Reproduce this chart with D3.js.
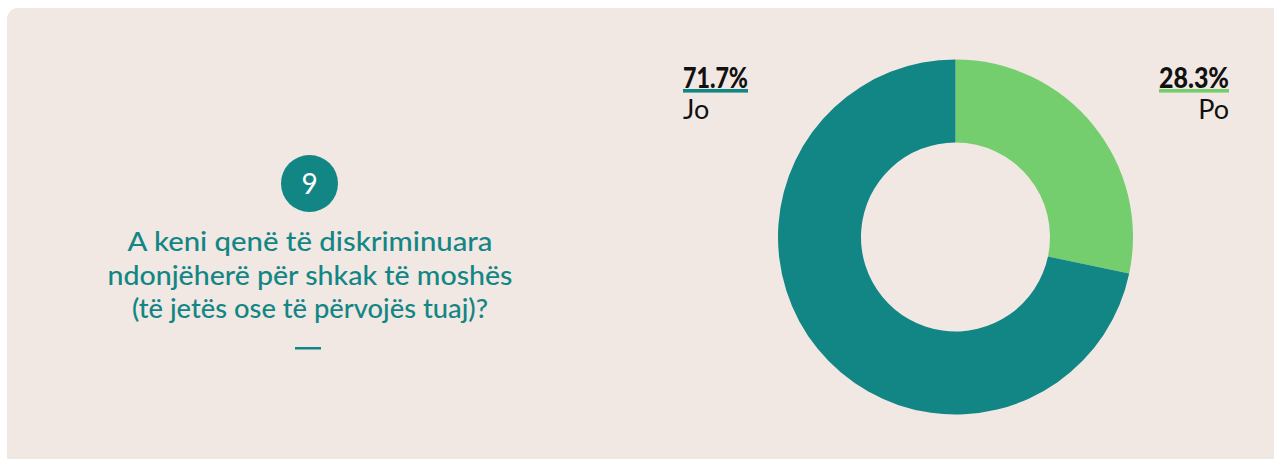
<!DOCTYPE html>
<html>
<head>
<meta charset="utf-8">
<script src="https://cdn.jsdelivr.net/npm/d3@7"></script>
<style>
  html, body { margin: 0; padding: 0; background: #ffffff; }
  svg { display: block; }
</style>
</head>
<body>
<script>
// ---- data ----
const categories = ["Po", "Jo"];
const values = [28.3, 71.7];
const valueLabels = ["28.3%", "71.7%"];
const colors = ["#74ce6e", "#128685"];
const questionNumber = "9";
const questionLines = [
  "A keni qenë të diskriminuara",
  "ndonjëherë për shkak të moshës",
  "(të jetës ose të përvojës tuaj)?"
];

const W = 1274, H = 459;
const svg = d3.select("body").append("svg").attr("width", W).attr("height", H);

// panel
svg.append("rect")
  .attr("x", 7).attr("y", 8).attr("width", W - 7 + 20).attr("height", H + 20)
  .attr("rx", 11).attr("fill", "#f1e8e3");

// ---- left question block ----
const qx = 310;
svg.append("circle").attr("cx", 309.5).attr("cy", 183.5).attr("r", 28.5).attr("fill", "#128685");
svg.append("text")
  .attr("x", 309.5).attr("y", 194)
  .attr("text-anchor", "middle")
  .attr("font-family", "Lato, sans-serif").attr("font-weight", 400)
  .attr("font-size", 28).attr("fill", "#ffffff")
  .text(questionNumber);

const baselines = [251, 285, 318];
const qWidths = [365, 405, 356];
svg.selectAll("text.q").data(questionLines).join("text")
  .attr("class", "q")
  .attr("x", qx).attr("y", (d, i) => baselines[i])
  .attr("text-anchor", "middle")
  .attr("font-family", "Lato, sans-serif")
  .attr("font-weight", 500)
  .attr("font-size", 26)
  .attr("fill", "#128685")
  .attr("textLength", (d, i) => qWidths[i])
  .attr("lengthAdjust", "spacingAndGlyphs")
  .text(d => d);

svg.append("rect").attr("x", 295).attr("y", 347).attr("width", 26).attr("height", 2.5).attr("fill", "#128685");

// ---- donut ----
const cx = 955.5, cy = 237, R = 177.5, r = 94.5;
const pie = d3.pie().sort(null).value(d => d)(values);
const arc = d3.arc().innerRadius(r).outerRadius(R);
const g = svg.append("g").attr("transform", `translate(${cx},${cy})`);
g.selectAll("path").data(pie).join("path")
  .attr("d", arc)
  .attr("fill", (d, i) => colors[i]);

// ---- labels ----
const labelSpec = [
  { anchor: "end", x: 1229, w: 70 },   // Po
  { anchor: "start", x: 683, w: 65 }   // Jo
];
categories.forEach((c, i) => {
  const s = labelSpec[i];
  const x0 = s.anchor === "start" ? s.x : s.x - s.w;
  svg.append("text")
    .attr("x", x0).attr("y", 87.5)
    .attr("font-family", "Lato, sans-serif").attr("font-weight", 900)
    .attr("font-size", 29).attr("fill", "#111111")
    .attr("textLength", s.w).attr("lengthAdjust", "spacingAndGlyphs")
    .text(valueLabels[i]);
  svg.append("rect")
    .attr("x", x0).attr("y", 89).attr("width", s.w).attr("height", 3.6)
    .attr("fill", colors[i]);
  svg.append("text")
    .attr("x", s.x).attr("y", 118.5)
    .attr("text-anchor", s.anchor)
    .attr("font-family", "Lato, sans-serif")
    .attr("font-size", 27).attr("fill", "#111111")
    .text(c);
});
</script>
</body>
</html>
